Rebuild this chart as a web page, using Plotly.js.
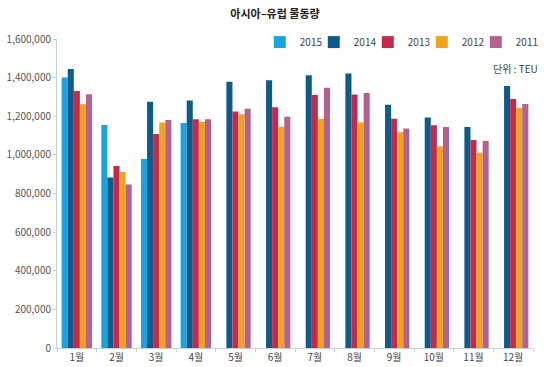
<!DOCTYPE html>
<html>
<head>
<meta charset="utf-8">
<script src="https://cdn.plot.ly/plotly-3.0.1.min.js"></script>
<style>
html,body{margin:0;padding:0;background:#fff;}
#chart{width:550px;height:367px;}
#chart .legend .scrollbox{clip-path:none !important;}
</style>
</head>
<body>
<div id="chart"></div>
<script>
const months = ['1월','2월','3월','4월','5월','6월','7월','8월','9월','10월','11월','12월'];
const years = ['2015','2014','2013','2012','2011'];
const v2015 = [1401000, 1155000, 979000, 1165000, null, null, null, null, null, null, null, null];
const v2014 = [1445000, 883000, 1275000, 1281000, 1379000, 1386000, 1412000, 1422000, 1260000, 1193000, 1144000, 1357000];
const v2013 = [1331000, 942000, 1108000, 1184000, 1224000, 1246000, 1310000, 1312000, 1187000, 1153000, 1077000, 1289000];
const v2012 = [1262000, 911000, 1167000, 1172000, 1210000, 1146000, 1186000, 1168000, 1117000, 1044000, 1011000, 1243000];
const v2011 = [1314000, 847000, 1181000, 1184000, 1239000, 1198000, 1348000, 1320000, 1137000, 1144000, 1072000, 1263000];
const yTicks = [0, 200000, 400000, 600000, 800000, 1000000, 1200000, 1400000, 1600000];

const series = [v2015, v2014, v2013, v2012, v2011];
const colors = ['#1ba3dd', '#0e5a8b', '#c42a4d', '#f2a31c', '#b4628c'];
const FONT = '"Noto Sans CJK KR", "Liberation Sans", sans-serif';

const data = series.map((vals, i) => ({
  type: 'bar',
  name: years[i],
  x: months,
  y: vals,
  marker: {color: colors[i], line: {width: 0}},
  hoverinfo: 'x+y+name'
}));

const layout = {
  width: 550, height: 367,
  margin: {l: 57, r: 17, t: 39, b: 19, autoexpand: false},
  paper_bgcolor: '#ffffff', plot_bgcolor: '#ffffff',
  font: {family: FONT, size: 10, color: '#444'},
  barmode: 'group',
  bargap: 0.234,
  bargroupgap: 0,
  title: {text: '<b>아시아–유럽 물동량</b>', font: {family: FONT, size: 11, color: '#222'},
          x: 0.5, xref: 'container', y: 0.962, yref: 'container', xanchor: 'center', yanchor: 'middle'},
  xaxis: {
    type: 'category',
    showgrid: false, zeroline: false,
    showline: true, linecolor: '#c5d2de', linewidth: 1,
    ticks: 'outside', tickson: 'boundaries', ticklen: 3, tickcolor: '#c5d2de',
    tickfont: {family: FONT, size: 10, color: '#444'},
    fixedrange: true
  },
  yaxis: {
    range: [0, 1600000],
    tickvals: yTicks,
    ticktext: yTicks.map(v => v.toLocaleString('en-US')),
    showgrid: false, zeroline: false,
    showline: true, linecolor: '#c5d2de', linewidth: 1,
    ticks: 'outside', ticklen: 3, tickcolor: '#c5d2de',
    tickfont: {family: FONT, size: 10, color: '#555'},
    fixedrange: true
  },
  legend: {
    orientation: 'h',
    x: 0.426, y: 0.99, xanchor: 'left', yanchor: 'middle',
    entrywidth: 9, entrywidthmode: 'pixels',
    font: {family: FONT, size: 10, color: '#444'},
    itemclick: false, itemdoubleclick: false,
    bgcolor: 'rgba(0,0,0,0)'
  },
  annotations: [{
    text: '단위 : TEU', xref: 'paper', yref: 'paper',
    x: 1.015, y: 0.906, xanchor: 'right', yanchor: 'middle',
    showarrow: false, font: {family: FONT, size: 10, color: '#444'}
  }]
};

Plotly.newPlot('chart', data, layout, {displayModeBar: false, staticPlot: true});
</script>
</body>
</html>
